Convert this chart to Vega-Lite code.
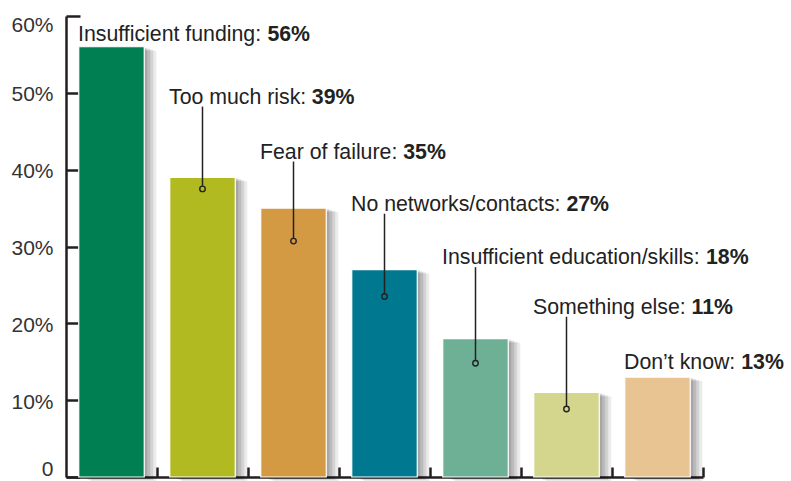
{
  "$schema": "https://vega.github.io/schema/vega-lite/v6.json",
  "width": 637,
  "height": 461,
  "autosize": {"type": "none"},
  "padding": {"left": 66, "top": 16, "right": 88, "bottom": 4},
  "background": "white",
  "config": {
    "view": {"stroke": null},
    "font": "Liberation Sans",
    "axisY": {
      "title": null,
      "grid": false,
      "domainColor": "#231f20",
      "domainWidth": 2.5,
      "tickColor": "#231f20",
      "tickWidth": 2.5,
      "tickSize": -14,
      "labelPadding": 27,
      "labelFont": "Liberation Sans",
      "labelFontSize": 21,
      "labelColor": "#333333"
    }
  },
  "data": {
    "values": [
      {"cat": "Insufficient funding", "pct": 56, "labelY": 56.75, "dot": null},
      {"cat": "Too much risk", "pct": 39, "labelY": 48.6, "dot": 37.5},
      {"cat": "Fear of failure", "pct": 35, "labelY": 41.45, "dot": 30.7},
      {"cat": "No networks/contacts", "pct": 27, "labelY": 34.65, "dot": 23.5},
      {"cat": "Insufficient education/skills", "pct": 18, "labelY": 27.7, "dot": 14.8},
      {"cat": "Something else", "pct": 11, "labelY": 21.25, "dot": 8.85},
      {"cat": "Don’t know", "pct": 13, "labelY": 14.1, "dot": null}
    ]
  },
  "transform": [
    {"calculate": "datum.cat + ':'", "as": "prefix"},
    {"calculate": "datum.pct + '%'", "as": "pctText"}
  ],
  "encoding": {
    "x": {
      "field": "cat",
      "type": "nominal",
      "sort": null,
      "scale": {"paddingInner": 0, "paddingOuter": 0},
      "axis": {
        "title": null,
        "labels": false,
        "domainColor": "#231f20",
        "domainWidth": 2.5,
        "tickColor": "#231f20",
        "tickWidth": 2.5,
        "tickSize": -10,
        "bandPosition": 1
      }
    }
  },
  "layer": [
    {
      "mark": {"type": "bar", "width": {"band": 0.72}, "color": "#000", "opacity": 0.11, "xOffset": 3, "yOffset": 1, "y2Offset": 1},
      "encoding": {
        "y": {
          "field": "pct",
          "type": "quantitative",
          "title": null,
          "scale": {"domain": [0, 60], "nice": false},
          "axis": {
            "values": [0, 10, 20, 30, 40, 50, 60],
            "labelExpr": "datum.value == 0 ? '0' : datum.value + '%'",
            "labelBaseline": {"condition": {"test": "datum.value == 0", "value": "bottom"}, "value": "middle"},
            "labelOffset": {"condition": {"test": "datum.value == 60", "value": 9}, "value": 2}
          }
        }
      }
    },
    {
      "mark": {"type": "bar", "width": {"band": 0.72}, "color": "#000", "opacity": 0.11, "xOffset": 6, "yOffset": 2, "y2Offset": 2},
      "encoding": {"y": {"field": "pct", "type": "quantitative", "title": null, "scale": {"domain": [0, 60], "nice": false}}}
    },
    {
      "mark": {"type": "bar", "width": {"band": 0.72}, "color": "#000", "opacity": 0.1, "xOffset": 9, "yOffset": 3, "y2Offset": 3},
      "encoding": {"y": {"field": "pct", "type": "quantitative", "title": null, "scale": {"domain": [0, 60], "nice": false}}}
    },
    {
      "mark": {"type": "bar", "width": {"band": 0.72}, "color": "#000", "opacity": 0.08, "xOffset": 12, "yOffset": 4, "y2Offset": 4},
      "encoding": {"y": {"field": "pct", "type": "quantitative", "title": null, "scale": {"domain": [0, 60], "nice": false}}}
    },
    {
      "mark": {"type": "bar", "width": {"band": 0.72}, "stroke": "white", "strokeWidth": 1.2},
      "encoding": {
        "y": {"field": "pct", "type": "quantitative", "title": null, "scale": {"domain": [0, 60], "nice": false}},
        "color": {
          "field": "cat",
          "type": "nominal",
          "sort": null,
          "legend": null,
          "scale": {"range": ["#007f52", "#b1bb21", "#d39a43", "#00788f", "#6db096", "#d3d68c", "#e8c493"]}
        }
      }
    },
    {
      "transform": [{"filter": "datum.dot != null"}],
      "mark": {"type": "rule", "color": "#222222", "strokeWidth": 1.5, "yOffset": -3, "y2Offset": 3},
      "encoding": {
        "y": {"field": "dot", "type": "quantitative", "title": null, "scale": {"domain": [0, 60], "nice": false}},
        "y2": {"field": "labelY"}
      }
    },
    {
      "transform": [{"filter": "datum.dot != null"}],
      "mark": {"type": "point", "shape": "circle", "filled": false, "stroke": "#222222", "strokeWidth": 1.4, "size": 30, "opacity": 1},
      "encoding": {
        "y": {"field": "dot", "type": "quantitative", "title": null, "scale": {"domain": [0, 60], "nice": false}}
      }
    },
    {
      "mark": {"type": "text", "align": "left", "baseline": "alphabetic", "fontSize": 21.3, "color": "#222222", "dx": -33.5},
      "encoding": {
        "y": {"field": "labelY", "type": "quantitative", "title": null, "scale": {"domain": [0, 60], "nice": false}},
        "text": {"field": "prefix"}
      }
    },
    {
      "transform": [{"filter": "datum.cat == 'Insufficient funding'"}],
      "mark": {"type": "text", "align": "left", "baseline": "alphabetic", "fontSize": 21.3, "fontWeight": "bold", "color": "#222222", "dx": 155.9},
      "encoding": {"y": {"field": "labelY", "type": "quantitative", "title": null, "scale": {"domain": [0, 60], "nice": false}}, "text": {"field": "pctText"}}
    },
    {
      "transform": [{"filter": "datum.cat == 'Too much risk'"}],
      "mark": {"type": "text", "align": "left", "baseline": "alphabetic", "fontSize": 21.3, "fontWeight": "bold", "color": "#222222", "dx": 109.3},
      "encoding": {"y": {"field": "labelY", "type": "quantitative", "title": null, "scale": {"domain": [0, 60], "nice": false}}, "text": {"field": "pctText"}}
    },
    {
      "transform": [{"filter": "datum.cat == 'Fear of failure'"}],
      "mark": {"type": "text", "align": "left", "baseline": "alphabetic", "fontSize": 21.3, "fontWeight": "bold", "color": "#222222", "dx": 109.7},
      "encoding": {"y": {"field": "labelY", "type": "quantitative", "title": null, "scale": {"domain": [0, 60], "nice": false}}, "text": {"field": "pctText"}}
    },
    {
      "transform": [{"filter": "datum.cat == 'No networks/contacts'"}],
      "mark": {"type": "text", "align": "left", "baseline": "alphabetic", "fontSize": 21.3, "fontWeight": "bold", "color": "#222222", "dx": 181.9},
      "encoding": {"y": {"field": "labelY", "type": "quantitative", "title": null, "scale": {"domain": [0, 60], "nice": false}}, "text": {"field": "pctText"}}
    },
    {
      "transform": [{"filter": "datum.cat == 'Insufficient education/skills'"}],
      "mark": {"type": "text", "align": "left", "baseline": "alphabetic", "fontSize": 21.3, "fontWeight": "bold", "color": "#222222", "dx": 230.5},
      "encoding": {"y": {"field": "labelY", "type": "quantitative", "title": null, "scale": {"domain": [0, 60], "nice": false}}, "text": {"field": "pctText"}}
    },
    {
      "transform": [{"filter": "datum.cat == 'Something else'"}],
      "mark": {"type": "text", "align": "left", "baseline": "alphabetic", "fontSize": 21.3, "fontWeight": "bold", "color": "#222222", "dx": 125.1},
      "encoding": {"y": {"field": "labelY", "type": "quantitative", "title": null, "scale": {"domain": [0, 60], "nice": false}}, "text": {"field": "pctText"}}
    },
    {
      "transform": [{"filter": "datum.cat == 'Don’t know'"}],
      "mark": {"type": "text", "align": "left", "baseline": "alphabetic", "fontSize": 21.3, "fontWeight": "bold", "color": "#222222", "dx": 83.7},
      "encoding": {"y": {"field": "labelY", "type": "quantitative", "title": null, "scale": {"domain": [0, 60], "nice": false}}, "text": {"field": "pctText"}}
    }
  ]
}
